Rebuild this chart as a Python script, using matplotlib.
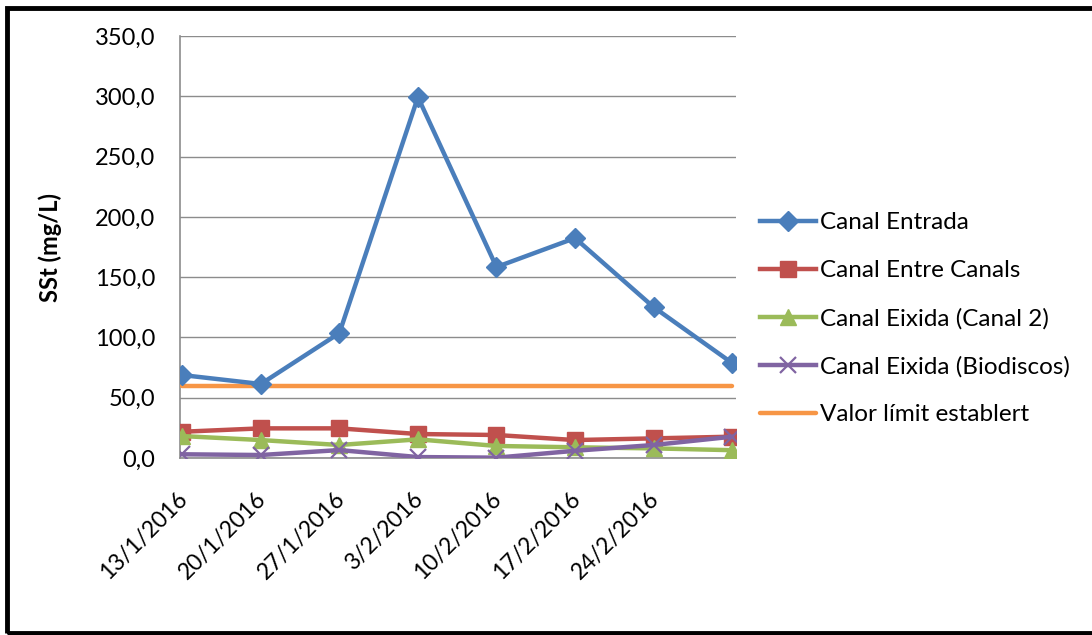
import matplotlib.pyplot as plt
from matplotlib.patches import Rectangle
from matplotlib.transforms import ScaledTranslation

# weekly sampling dates (last sample has no label on the axis)
dates = ["13/1/2016", "20/1/2016", "27/1/2016", "3/2/2016",
         "10/2/2016", "17/2/2016", "24/2/2016", ""]

entrada = [68.8, 61.4, 103.6, 299.3, 158.4, 182.4, 125.2, 78.8]
entre_canals = [21.8, 24.6, 24.6, 19.9, 19.1, 14.9, 16.3, 17.7]
eixida_canal2 = [18.2, 14.9, 10.8, 15.5, 10.0, 8.9, 8.0, 6.5]
eixida_biodiscos = [3.1, 2.5, 6.6, 0.8, 0.3, 6.0, 10.8, 17.7]
valor_limit = [60, 60, 60, 60, 60, 60, 60, 60]

plt.rcParams['font.family'] = ['Lato', 'DejaVu Sans']

fig = plt.figure(figsize=(10.92, 6.35), dpi=100)
ax = fig.add_axes([0.1648, 0.2787, 0.5092, 0.6646])

x = list(range(len(dates)))
lw = 3.2
ax.plot(x, entrada, color="#4A7EBB", lw=lw, marker="D", ms=10, label="Canal Entrada", zorder=5)
ax.plot(x, entre_canals, color="#C0504D", lw=lw, marker="s", ms=11, label="Canal Entre Canals", zorder=4)
ax.plot(x, eixida_canal2, color="#9BBB59", lw=lw, marker="^", ms=12, label="Canal Eixida (Canal 2)", zorder=4)
ax.plot(x, eixida_biodiscos, color="#8064A2", lw=lw, marker="x", ms=11, mew=1.6,
        label="Canal Eixida (Biodiscos)", zorder=4)
ax.plot(x, valor_limit, color="#F79646", lw=lw, solid_capstyle="round",
        label="Valor límit establert", zorder=3)

ax.set_ylim(0, 350)
ax.set_xlim(-0.03, 7.05)
ax.set_yticks(range(0, 351, 50))
ax.set_yticklabels([f"{v},0" for v in range(0, 351, 50)], fontsize=17)
ax.set_xticks(x)
ax.set_xticklabels(dates, rotation=45, ha="right", va="center",
                   rotation_mode="anchor", fontsize=16.5)
ax.tick_params(axis="y", length=0, pad=18)
ax.tick_params(axis="x", length=0, pad=27)
shift = ScaledTranslation(2 / 100, 0, fig.dpi_scale_trans)
for lab in ax.get_xticklabels():
    lab.set_transform(lab.get_transform() + shift)

ax.grid(axis="y", color="#8c8c8c", lw=1)
ax.set_axisbelow(True)
for side in ("top", "right"):
    ax.spines[side].set_visible(False)
for side in ("left", "bottom"):
    ax.spines[side].set_color("#8c8c8c")
    ax.spines[side].set_linewidth(1.2)

ax.set_ylabel("SSt (mg/L)", fontsize=17, fontweight="bold")
ax.yaxis.set_label_coords(-0.212, 0.5)

ax.legend(loc="center left", bbox_to_anchor=(1.025, 0.33), frameon=False,
          fontsize=17.5, handlelength=2.3, handletextpad=0.2, labelspacing=1.1,
          borderaxespad=0)

# black frame around the figure
fig.patches.append(Rectangle((0.0066, 0.0031), 1.1, 0.985, transform=fig.transFigure,
                             fill=False, edgecolor="black", lw=3.5))

fig.savefig("out.png", dpi=100)
